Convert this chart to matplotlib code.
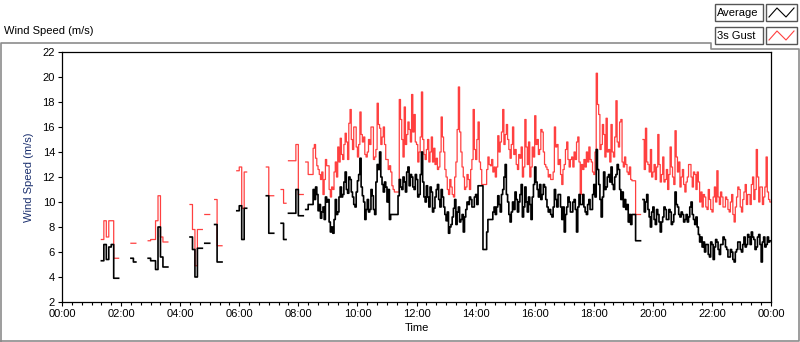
import numpy as np
import matplotlib.pyplot as plt
from matplotlib.patches import Rectangle

plt.rcParams['font.family'] = ['Liberation Sans', 'DejaVu Sans']

grid = 2.5  # minutes, finest sample spacing used below

# logged stretches: start minute, sample spacing (min), values
seg_start = [80, 140, 175, 260, 290, 310, 355, 415, 445, 460,
             495, 670, 945, 1180]
seg_step = [5, 5, 5, 5, 5, 5, 5, 5, 5, 5,
            2.5, 2.5, 2.5, 2.5]

avg_segs = [
    [5.3, 6.6, 5.4, 6.4, 6.6, 3.9, 3.9],
    [5.5, 5.2],
    [5.5, 5.3, 5.3, 4.6, 8.0, 5.6, 4.8, 4.8],
    [7.2, 6.2, 4.0, 6.3, 6.3],
    [6.7, 6.7],
    [8.2, 5.2, 5.2],
    [9.3, 9.7, 7.0, 9.5],
    [10.5, 7.5, 7.5],
    [8.3, 7.0],
    [9.1, 9.1, 9.1, 11.0, 8.9, 8.9],
    [9.4, 9.4, 9.8, 9.8, 9.8, 9.8, 11.0, 10.2, 11.2, 10.6,
     9.3, 9.8, 8.7, 9.2, 9.6, 8.6, 10.4, 10.0, 10.2, 8.4,
     7.6, 8.0, 7.5, 8.6, 10.2, 9.0, 9.2, 10.4, 11.2, 10.4,
     10.6, 11.6, 12.4, 11.0, 10.7, 12.0, 11.8, 10.8, 10.4, 9.8,
     9.6, 10.8, 11.7, 12.2, 13.5, 11.2, 10.5, 10.0, 8.6, 9.4,
     10.2, 9.2, 9.4, 11.0, 10.5, 9.4, 9.0, 11.6, 13.0, 12.6,
     14.0, 12.0, 11.4, 10.8, 11.6, 11.2, 10.0, 11.0, 8.6, 9.0],
    [9.0, 9.0, 9.0, 9.0, 9.0, 10.5, 11.8, 11.2, 11.0, 12.0,
     11.6, 10.8, 12.4, 12.8, 11.3, 12.2, 12.0, 11.2, 11.0, 12.2,
     11.8, 10.4, 10.6, 12.2, 14.0, 11.6, 10.4, 10.0, 11.3, 10.4,
     9.6, 11.2, 10.8, 9.2, 9.5, 10.4, 11.0, 11.4, 10.2, 9.6,
     11.0, 10.4, 9.6, 9.0, 8.5, 9.2, 7.5, 8.0, 8.2, 8.8,
     9.5, 10.2, 8.2, 9.2, 9.6, 8.4, 8.6, 9.0, 7.6, 8.8,
     9.4, 10.0, 9.8, 10.4, 10.2, 9.6, 9.6, 10.4, 10.6, 9.8,
     11.3, 11.3, 11.3, 11.3, 6.2, 6.2, 6.2, 7.6, 8.6, 8.6,
     8.6, 8.6, 9.2, 9.6, 9.0, 9.6, 10.5, 9.8, 9.2, 10.6,
     11.0, 12.0, 13.0, 10.6, 10.0, 9.0, 8.4, 9.2, 10.0, 9.4,
     10.8, 10.2, 9.2, 10.0, 10.6, 11.4, 8.8, 9.6, 11.2, 10.0],
    [9.2, 10.4, 9.8, 8.6, 10.4, 11.4, 12.8, 11.6, 11.0, 10.4,
     11.4, 10.2, 10.6, 11.4, 11.2, 10.2, 9.6, 9.2, 9.4, 9.0,
     8.8, 9.6, 11.0, 10.2, 9.6, 10.6, 10.6, 9.6, 8.6, 9.6,
     7.6, 9.0, 9.6, 10.4, 10.0, 9.2, 9.2, 10.0, 10.2, 9.4,
     7.6, 9.6, 10.6, 9.8, 9.8, 10.6, 9.6, 9.2, 9.0, 9.8,
     10.2, 9.4, 9.4, 10.6, 11.4, 10.4, 14.2, 12.6, 11.4, 10.2,
     8.8, 10.4, 12.4, 11.0, 11.2, 12.0, 12.2, 11.6, 12.8, 11.4,
     11.0, 12.0, 12.2, 13.0, 12.6, 11.0, 10.2, 10.8, 9.6, 10.2,
     9.4, 9.8, 8.4, 9.0, 8.2, 9.0, 9.0, 9.0, 6.9, 6.9,
     6.9, 6.9],
    [10.2, 9.2, 10.0, 10.6, 9.4, 8.8, 8.0, 9.2, 9.6, 8.6,
     8.2, 9.4, 9.0, 8.4, 7.6, 8.4, 8.8, 9.6, 9.4, 8.6,
     8.6, 9.4, 9.2, 8.2, 8.4, 9.0, 10.8, 9.8, 9.6, 9.0,
     8.8, 9.2, 9.0, 8.4, 8.6, 9.0, 8.4, 8.8, 9.6, 10.0,
     9.0, 8.6, 8.2, 8.8, 8.0, 7.4, 6.8, 7.2, 6.4, 6.8,
     6.0, 6.6, 6.6, 5.8, 5.6, 6.8, 6.6, 5.4, 6.4, 7.0,
     6.8, 6.2, 5.8, 6.6, 6.6, 7.2, 7.0, 6.4, 6.2, 5.6,
     5.6, 6.2, 6.0, 5.4, 5.2, 6.0, 6.2, 6.8, 6.8, 6.2,
     6.0, 6.6, 7.2, 6.4, 6.6, 7.4, 7.2, 6.6, 7.6, 7.2,
     7.0, 6.2, 6.4, 7.2, 7.4, 6.6, 5.2, 6.8, 7.2, 6.4,
     6.6, 7.2, 6.8, 6.9],
]

gust_segs = [
    [7.0, 8.5, 7.2, 8.5, 8.5, 5.5, 5.5],
    [6.7, 6.7],
    [6.9, 7.0, 7.0, 8.5, 10.5, 7.2, 6.8, 6.8],
    [9.8, 7.8, 4.9, 7.8, 7.8],
    [9.0, 9.0],
    [10.2, 6.5, 6.5],
    [12.5, 12.8, 9.5, 12.4],
    [12.8, 10.5, 10.5],
    [11.0, 9.9],
    [13.3, 13.3, 13.3, 14.6, 10.6, 10.6],
    [13.2, 13.2, 12.2, 12.2, 12.2, 12.2, 14.3, 14.6, 13.5, 12.9,
     12.6, 12.2, 11.8, 12.4, 10.6, 11.8, 13.4, 12.9, 12.9, 11.0,
     10.4, 11.2, 11.0, 12.4, 13.2, 12.0, 14.4, 13.2, 15.1, 13.8,
     13.4, 14.6, 15.5, 14.8, 13.4, 16.3, 17.4, 15.0, 14.2, 16.0,
     16.0, 14.4, 13.6, 14.6, 17.2, 15.4, 14.8, 15.2, 13.8, 13.6,
     14.0, 15.0, 14.6, 16.0, 16.0, 13.4, 13.6, 14.2, 17.9, 16.2,
     15.9, 14.6, 15.2, 16.0, 14.6, 13.4, 13.4, 12.6, 12.9, 12.4],
    [11.3, 11.0, 10.8, 10.8, 10.8, 10.8, 18.2, 16.6, 15.0, 13.6,
     17.6, 14.6, 15.4, 16.4, 15.8, 14.8, 18.6, 15.6, 17.0, 14.8,
     14.6, 13.2, 14.0, 15.2, 18.8, 15.0, 13.8, 13.4, 14.2, 15.0,
     13.2, 14.0, 15.2, 13.2, 14.3, 13.0, 13.5, 12.6, 12.8, 14.0,
     16.8, 15.2, 14.0, 12.6, 12.0, 11.0, 10.6, 11.8, 11.2, 10.6,
     10.4, 12.0, 13.2, 15.8, 19.2, 15.6, 14.0, 12.8, 12.0, 11.0,
     11.2, 12.2, 11.8, 11.0, 12.6, 13.4, 17.4, 14.2, 13.4, 15.0,
     16.4, 13.2, 12.6, 11.4, 11.4, 11.4, 11.4, 12.6, 13.6, 13.0,
     12.9, 13.4, 12.4, 12.8, 12.0, 12.8, 15.3, 14.0, 14.8, 15.6,
     17.4, 14.6, 15.4, 16.2, 15.0, 14.2, 13.5, 14.6, 16.0, 13.8,
     14.2, 13.0, 12.6, 13.8, 13.5, 14.4, 12.0, 12.8, 16.6, 14.4],
    [13.0, 14.8, 12.0, 12.8, 14.4, 13.6, 16.9, 14.6, 15.0, 13.8,
     14.2, 15.8, 15.6, 14.0, 13.0, 12.8, 12.6, 12.0, 12.2, 11.8,
     11.8, 12.4, 16.0, 14.4, 14.6, 13.0, 13.4, 12.2, 11.4, 12.6,
     13.0, 14.2, 14.8, 13.4, 12.8, 13.4, 13.6, 12.8, 14.0, 13.4,
     14.8, 15.2, 13.2, 10.6, 13.0, 12.6, 13.4, 12.8, 14.0, 13.2,
     14.4, 13.4, 13.2, 12.4, 12.2, 14.0, 20.3, 17.8, 17.0, 14.2,
     14.6, 16.2, 15.4, 13.6, 16.7, 14.0, 14.2, 13.2, 16.2, 14.0,
     13.6, 15.2, 18.1, 14.8, 14.4, 16.4, 16.6, 13.2, 12.8, 13.6,
     13.0, 12.4, 12.2, 12.8, 11.8, 11.7, 11.7, 11.7, 9.0, 9.0,
     9.0, 9.0],
    [15.0, 12.6, 15.9, 13.2, 13.0, 12.4, 14.2, 12.0, 12.4, 13.0,
     11.8, 12.8, 15.4, 13.0, 11.6, 12.2, 13.6, 11.6, 11.8, 12.6,
     11.0, 12.2, 14.4, 12.8, 12.0, 11.4, 15.7, 13.6, 12.4, 13.2,
     11.2, 12.0, 12.6, 11.4, 10.8, 11.6, 12.0, 13.0, 13.0, 12.0,
     11.2, 12.4, 12.2, 11.0, 12.4, 11.6, 10.0, 10.8, 9.6, 10.6,
     10.4, 9.6, 9.4, 11.0, 10.2, 9.4, 9.2, 10.4, 11.2, 10.0,
     12.5, 10.4, 9.8, 10.8, 10.4, 9.6, 9.6, 10.4, 10.2, 9.4,
     9.2, 10.0, 10.6, 9.0, 8.4, 9.6, 10.4, 11.2, 11.0, 9.6,
     9.2, 10.2, 10.8, 11.4, 9.8, 10.6, 10.6, 9.8, 11.4, 12.0,
     10.2, 11.0, 14.2, 12.0, 10.0, 11.2, 11.2, 9.8, 10.4, 11.2,
     13.6, 10.8, 10.2, 10.0],
]

x_ticks = list(range(0, 1441, 120))
x_labels = ['00:00', '02:00', '04:00', '06:00', '08:00', '10:00', '12:00',
            '14:00', '16:00', '18:00', '20:00', '22:00', '00:00']
y_ticks = list(range(2, 23, 2))

# put every stretch on one common time grid, gaps stay NaN
t = np.arange(0, 1440 + grid / 2, grid)
avg = np.full(t.shape, np.nan)
gust = np.full(t.shape, np.nan)
for s, st, a, g in zip(seg_start, seg_step, avg_segs, gust_segs):
    i = int(round(s / grid))
    rep = int(round(st / grid))
    a = np.repeat(a, rep)
    g = np.repeat(g, rep)
    avg[i:i + len(a)] = a
    gust[i:i + len(g)] = g

fig = plt.figure(figsize=(8, 3.42), dpi=100)

# background layer in pixel coordinates for the panel frame and legend
bg = fig.add_axes([0, 0, 1, 1])
bg.set_xlim(0, 800)
bg.set_ylim(342, 0)
bg.axis('off')
frame = '#8c8c8c'
bg.plot([0.5, 0.5, 711, 711, 798.5, 798.5, 0.5],
        [341, 42.5, 42.5, 48.5, 48.5, 340.5, 340.5], color=frame, lw=1.2)
bg.text(4, 31, 'Wind Speed (m/s)', fontsize=8, va='center', ha='left')

for y0, name, col in [(4, 'Average', 'black'), (27, '3s Gust', '#ff4040')]:
    bg.add_patch(Rectangle((715, y0), 48, 17, fc='white', ec='#555555', lw=1))
    bg.add_patch(Rectangle((766, y0), 31, 17, fc='white', ec='#555555', lw=1))
    bg.text(717, y0 + 8.8, name, fontsize=8, va='center', ha='left')
    bg.plot([769, 777, 786, 794], [y0 + 13, y0 + 4, y0 + 13, y0 + 4],
            color=col, lw=0.8)

ax = fig.add_axes([62 / 800, 40 / 342, 709 / 800, 250 / 342])
ax.plot(t, gust, drawstyle='steps-post', color='#ff4040', lw=0.9)
ax.plot(t, avg, drawstyle='steps-post', color='black', lw=1.2)

ax.set_xlim(0, 1440)
ax.set_ylim(2, 22)
ax.set_xticks(x_ticks)
ax.set_xticklabels(x_labels)
ax.set_xticks(range(0, 1441, 20), minor=True)
ax.set_yticks(y_ticks)
ax.tick_params(axis='both', direction='out', length=3, width=0.8,
               labelsize=8, pad=2)
ax.tick_params(axis='x', which='minor', length=2.5, width=0.8)
for sp in ax.spines.values():
    sp.set_linewidth(0.9)

ax.set_xlabel('Time', fontsize=8, labelpad=3)
ax.set_ylabel('Wind Speed (m/s)', fontsize=8, color='#1a2f6e', labelpad=6)

fig.savefig('out.png', dpi=100)
